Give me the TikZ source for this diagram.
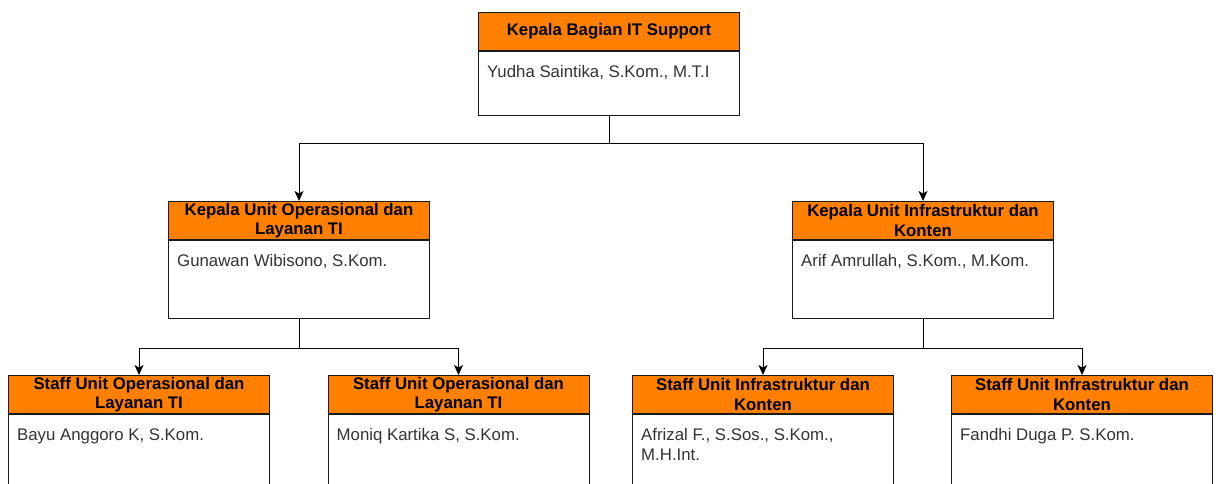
\documentclass[tikz,border=0pt]{standalone}
\usepackage{fontspec}
\setmainfont{Liberation Sans}
\usetikzlibrary{arrows.meta}
\definecolor{orgorange}{HTML}{FF8000}
\definecolor{bodygray}{HTML}{333333}
\definecolor{edgegray}{HTML}{1A1A1A}
\tikzset{
  hdr/.style={draw=edgegray, line width=1pt, fill=orgorange, anchor=north west,
    minimum width=261pt, minimum height=38pt, inner sep=0pt, text width=255pt,
    align=flush center, font=\fontsize{16.8}{19.5}\selectfont\bfseries, text=black},
  bodybox/.style={draw=edgegray, line width=1pt, fill=white, anchor=north west,
    minimum width=261pt, inner sep=0pt},
  bodytext/.style={anchor=north west, inner sep=0pt, text width=243pt, align=flush left,
    font=\fontsize{16.8}{20}\selectfont, text=bodygray},
  conn/.style={draw=black, line width=1pt},
  arr/.style={conn, -{Stealth[length=10pt,width=9pt,inset=2.5pt]}}
}
\newcommand{\orgunit}[6]{%
  \node[hdr] (#1h) at (#2,#3) {#4};
  \node[bodybox, minimum height=#6] (#1b) at (#1h.south west) {};
  \node[bodytext] (#1t) at ([xshift=9pt,yshift=-12pt]#1b.north west) {\strut #5};
}
\begin{document}
\hyphenpenalty=10000
\exhyphenpenalty=10000
\begin{tikzpicture}[x=1pt,y=-1pt]
\useasboundingbox (0,0) rectangle (1219,484);
\clip (0,0) rectangle (1219,484);
\fill[white] (0,0) rectangle (1219,484);
\orgunit{top}{478}{12}{\raisebox{-1.5pt}{Kepala Bagian IT Support}}{Yudha Saintika, S.Kom., M.T.I}{64pt}
\orgunit{ml}{168}{201}{Kepala Unit Operasional dan Layanan TI}{Gunawan Wibisono, S.Kom.}{78pt}
\orgunit{mr}{792}{201}{Kepala Unit Infrastruktur dan Konten}{Arif Amrullah, S.Kom., M.Kom.}{78pt}
\orgunit{ba}{8}{375}{Staff Unit Operasional dan Layanan TI}{Bayu Anggoro K, S.Kom.}{90pt}
\orgunit{bb}{327.5}{375}{Staff Unit Operasional dan Layanan TI}{Moniq Kartika S, S.Kom.}{90pt}
\orgunit{bc}{632}{375}{Staff Unit Infrastruktur dan Konten}{Afrizal F., S.Sos., S.Kom., M.H.Int.}{90pt}
\orgunit{bd}{951}{375}{Staff Unit Infrastruktur dan Konten}{Fandhi Duga P. S.Kom.}{90pt}
\draw[arr] (topb.south) -- ++(0,28) -| (mlh.north);
\draw[arr] (topb.south) -- ++(0,28) -| (mrh.north);
\draw[arr] (mlb.south) -- ++(0,29) -| (bah.north);
\draw[arr] (mlb.south) -- ++(0,29) -| (bbh.north);
\draw[arr] (mrb.south) -- ++(0,29) -| (bch.north);
\draw[arr] (mrb.south) -- ++(0,29) -| (bdh.north);
\end{tikzpicture}
\end{document}
